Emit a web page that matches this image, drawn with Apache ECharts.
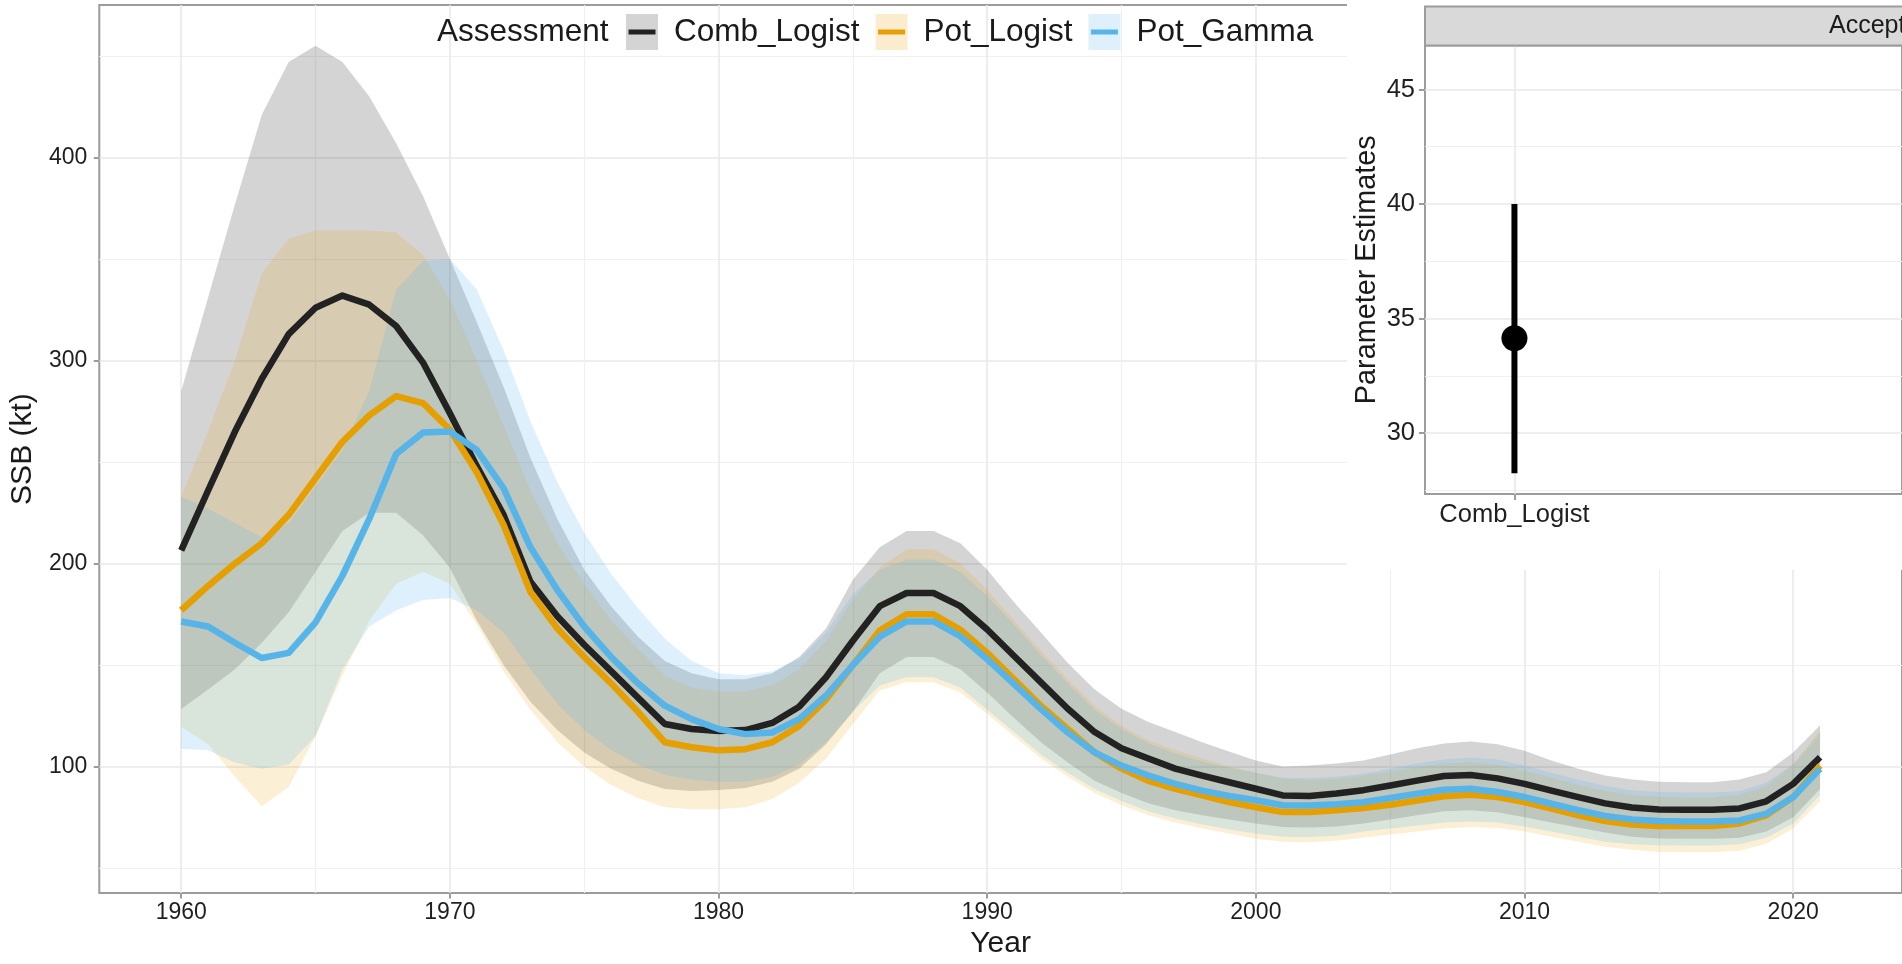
<!DOCTYPE html>
<html>
<head>
<meta charset="utf-8">
<script src="https://cdn.jsdelivr.net/npm/echarts@6/dist/echarts.min.js"></script>
<style>
  html, body { margin: 0; padding: 0; background: #ffffff; }
  #chart { width: 1902px; height: 964px; }
</style>
</head>
<body>
<div id="chart"></div>
<script>
// ---- Spawning stock biomass by assessment (kt) ----
const years = [
  1960, 1961, 1962, 1963, 1964, 1965, 1966, 1967, 1968, 1969,
  1970, 1971, 1972, 1973, 1974, 1975, 1976, 1977, 1978, 1979,
  1980, 1981, 1982, 1983, 1984, 1985, 1986, 1987, 1988, 1989,
  1990, 1991, 1992, 1993, 1994, 1995, 1996, 1997, 1998, 1999,
  2000, 2001, 2002, 2003, 2004, 2005, 2006, 2007, 2008, 2009,
  2010, 2011, 2012, 2013, 2014, 2015, 2016, 2017, 2018, 2019,
  2020, 2021
];

const assessments = ['Comb_Logist', 'Pot_Logist', 'Pot_Gamma'];

const combMean = [
  206.5, 236, 265, 291, 313, 326, 332, 327.5, 317, 299,
  274, 248, 224, 191, 174, 160, 147, 134, 121, 118.5,
  117.5, 118, 121.5, 129.5, 144, 162, 179, 185.5, 185.5, 179,
  167.5, 154.5, 141.5, 128.5, 117, 109, 104, 99, 95.6, 92.3,
  89.1, 85.8, 85.5, 86.8, 88.4, 90.7, 93.1, 95.4, 95.9, 94.2,
  91.5, 88.2, 85, 81.9, 79.9, 78.9, 78.8, 78.8, 79.4, 82.9,
  91.5, 104.6
];
const combUpper = [
  285, 331, 377, 421, 447, 455, 447, 430, 407, 381,
  350, 319, 287, 252, 222, 197, 179, 164, 152, 146,
  143, 143, 146, 154, 168, 192, 208, 216, 216, 210,
  197, 181, 166, 151, 138, 128.5, 122, 117, 112, 107.5,
  103, 100, 100.5, 101.5, 103, 106, 109, 111.4, 112.4, 111,
  107.8, 103, 99, 95.6, 93.6, 92.6, 92.3, 92.3, 93.6, 97.2,
  107, 120.4
];
const combLower = [
  128.4, 138, 148, 161, 176, 196, 216, 225, 225, 214,
  198, 172, 150, 132, 118, 107, 99, 93, 89, 88,
  88.5, 89.5, 92.5, 99, 111, 127, 146, 154, 154, 148,
  136.5, 124, 112, 102, 93, 87, 82, 78.5, 76, 74,
  72, 70.3, 70, 70.5, 72, 74, 76, 78, 78.5, 77.5,
  75, 72.5, 70, 67.5, 65.5, 64.6, 64.5, 64.5, 65, 68,
  75, 89
];

const potLMean = [
  177, 189, 200, 210, 224, 242, 260, 273, 282.5, 279,
  266, 245, 219, 186, 168, 154, 141, 127, 112, 109.5,
  108, 108.6, 112, 120, 133, 150, 167, 175, 175, 167.4,
  156, 143, 130, 118.5, 107, 99, 93, 89, 85.8, 82.5,
  80, 77.6, 77.6, 78.5, 79.6, 81.2, 83.3, 85.4, 86.1, 85,
  82.5, 79.3, 76, 73.2, 71.5, 70.8, 70.7, 70.8, 72, 76,
  85, 100.5
];
const potLUpper = [
  233, 265, 300, 343, 360, 364, 364, 364, 363, 352,
  330, 300, 268, 236, 210, 190, 172, 158, 145, 139,
  137, 137, 140, 148, 162, 182, 198, 207, 207, 200,
  187, 172, 157, 143, 130, 120, 113, 108, 104, 100,
  97, 94, 93.5, 94, 95.5, 97.5, 99.5, 101.5, 102, 101,
  98, 94.5, 91, 88, 86, 85, 84.8, 84.8, 86, 90.5,
  101, 118
];
const potLLower = [
  119.6, 111, 95, 80.5, 90, 115, 145, 172, 190, 196,
  190, 170, 147, 128, 112, 100, 91, 84.5, 80, 79,
  79, 80, 84, 92, 104, 121, 137.5, 141.5, 141.5, 136.5,
  126, 115, 104, 95, 87, 81, 76, 72.5, 69.5, 67,
  64.5, 63, 62.8, 63.5, 65, 66.5, 68, 69.5, 70.3, 69.8,
  68, 65.5, 63, 60.5, 59, 58, 57.8, 57.8, 58.5, 62,
  69.5, 83
];

const potGMean = [
  171.5, 169, 161, 153.5, 156, 171, 194, 222, 254, 264.5,
  265, 256, 237, 208, 187, 169, 154, 141, 130, 123.4,
  118.5, 116, 116.8, 123.4, 135, 150, 164, 171.5, 171.5, 164.2,
  152.9, 140.6, 128.3, 116.8, 107, 100.5, 95.6, 91.5, 88.2, 85.5,
  83.4, 81, 80.9, 81.5, 82.5, 84.5, 86.6, 88.6, 89.1, 87.5,
  85, 81.7, 78.5, 75.7, 74, 73.2, 73, 73, 73.5, 76.8,
  85, 98.9
];
const potGUpper = [
  233, 227, 220, 213, 220, 238, 256, 285, 335, 349,
  350, 335, 305, 270, 240, 215, 195, 178, 163, 152,
  146, 145, 147, 153, 166, 185, 197, 202, 202, 196,
  184, 170, 155, 141, 128, 118.5, 111.5, 106.5, 102.5, 99.5,
  97, 94.5, 94.3, 95, 96.5, 99, 101.5, 103.5, 104.4, 103.5,
  100.5, 97, 93.5, 90.5, 88.3, 87.5, 87.3, 87.3, 88, 92,
  101, 116
];
const potGLower = [
  108.8, 108, 102, 99, 101, 115, 148, 169, 177, 182,
  183, 177, 166, 148, 131, 118, 108, 101, 96, 93.5,
  92.5, 92.5, 95, 101, 112, 127, 140, 144, 144, 139,
  128, 117, 106, 97, 89, 83, 78, 74.5, 71.5, 69,
  67, 65.5, 65.3, 66, 68, 69.5, 71, 72.5, 73, 72.5,
  70.5, 68, 65.5, 63, 61.8, 61.3, 61.2, 61.2, 61.8, 65,
  72, 86
];

// Axis ticks
const yearTicks = [1960, 1970, 1980, 1990, 2000, 2010, 2020];
const yearMinorTicks = [1965, 1975, 1985, 1995, 2005, 2015];
const ssbTicks = [100, 200, 300, 400];
const ssbMinorTicks = [50, 150, 250, 350, 450];

// ---- Parameter estimate panel ----
const insetCategories = ['Comb_Logist'];
const insetEstimate = [34.14];
const insetLower = [28.25];
const insetUpper = [40.0];
const insetTicks = [30, 35, 40, 45];
const insetMinorTicks = [27.5, 32.5, 37.5, 42.5];
const stripLabel = 'Accepted';

// ---- styling ----
const FONT = '"Liberation Sans", Arial, Helvetica, sans-serif';
const lineColors = ['#222222', '#E69F00', '#56B4E9'];
const bandColors = ['rgba(38,38,38,0.2)', 'rgba(230,159,0,0.16)', 'rgba(86,180,233,0.2)'];
const keyFills = ['#d4d4d4', '#fbecd0', '#ddf0fb'];
const borderGrey = '#9c9c9c';
const gridMajor = '#e9e9e9';
const gridMinor = '#f0f0f0';
// legend key stroke: a 5px bar in the middle of a 27x36 key box
const keyBar = 'path://M0,0L27,0L27,0.01L0,0.01Z M0,15.5L27,15.5L27,20.5L0,20.5Z M0,35.99L27,35.99L27,36L0,36Z';

const means = [combMean, potLMean, potGMean];
const uppers = [combUpper, potLUpper, potGUpper];
const lowers = [combLower, potLLower, potGLower];

const pairs = vals => years.map((y, i) => [y, vals[i]]);

const series = [];
// ribbons: one filled polygon per assessment, upper edge out and lower edge back
assessments.forEach((name, k) => {
  series.push({
    type: 'custom', name, z: 2, silent: true,
    data: years.map((y, i) => [y, lowers[k][i], uppers[k][i]]),
    encode: { x: 0, y: [1, 2] },
    renderItem: (params, api) => {
      if (params.dataIndex !== 0) return null;
      const top = years.map((y, i) => api.coord([y, uppers[k][i]]));
      const bottom = years.map((y, i) => api.coord([y, lowers[k][i]])).reverse();
      return {
        type: 'polygon',
        shape: { points: top.concat(bottom) },
        style: { fill: bandColors[k] }
      };
    }
  });
});
// central estimates
assessments.forEach((name, k) => {
  series.push({
    type: 'line', name, data: pairs(means[k]), symbol: 'none',
    lineStyle: { color: lineColors[k], width: 6.5, join: 'round', cap: 'butt' },
    itemStyle: { color: lineColors[k] }, silent: true, z: 3
  });
});
// inset: interval + point estimate
series.push({
  type: 'custom', xAxisIndex: 2, yAxisIndex: 2, z: 30, silent: true,
  data: insetCategories.map((c, i) => [i + 1, insetLower[i], insetUpper[i]]),
  encode: { x: 0, y: [1, 2] },
  renderItem: (params, api) => {
    const a = api.coord([api.value(0), api.value(1)]);
    const b = api.coord([api.value(0), api.value(2)]);
    return { type: 'line', shape: { x1: a[0], y1: a[1], x2: b[0], y2: b[1] },
             style: { stroke: '#000000', lineWidth: 6 } };
  }
});
series.push({
  type: 'scatter', xAxisIndex: 2, yAxisIndex: 2, z: 31,
  data: insetCategories.map((c, i) => [i + 1, insetEstimate[i]]),
  symbol: 'circle', symbolSize: 26, itemStyle: { color: '#000000', opacity: 1 }, silent: true
});

const hidden = { show: false };
const plainNumber = v => String(v);

const option = {
  animation: false,
  backgroundColor: '#ffffff',
  textStyle: { fontFamily: FONT },
  title: {
    text: 'Assessment', left: 437, top: 14, padding: 0,
    textStyle: { fontFamily: FONT, fontSize: 31.5, fontWeight: 'normal', color: '#1a1a1a', lineHeight: 36 }
  },
  legend: [
    {
      data: assessments.map((a, k) => ({ name: a, itemStyle: { color: keyFills[k], borderWidth: 0, opacity: 1 } })),
      left: 626, top: 14, padding: 0, itemWidth: 32, itemHeight: 36, itemGap: 16,
      icon: 'rect', selectedMode: false, z: 5,
      textStyle: { fontFamily: FONT, fontSize: 31.5, lineHeight: 36, color: '#1a1a1a', padding: [0, 0, 0, 11] }
    },
    {
      data: assessments.map((a, k) => ({ name: a, itemStyle: { color: lineColors[k], borderWidth: 0, opacity: 1 } })),
      left: 628.5, top: 14, padding: 0, itemWidth: 27, itemHeight: 36, itemGap: 16,
      icon: keyBar, selectedMode: false, z: 6,
      textStyle: { fontFamily: FONT, fontSize: 31.5, lineHeight: 36, color: 'rgba(0,0,0,0)', padding: [0, 0, 0, 16] }
    }
  ],
  grid: [
    { left: 95.8, right: -15.6, top: 5, bottom: 65.7, show: true,
      borderColor: borderGrey, borderWidth: 2, backgroundColor: 'transparent', z: 0 },
    { left: 1425, right: -648, top: 45.5, bottom: 470, show: true,
      borderColor: borderGrey, borderWidth: 2, backgroundColor: 'transparent', z: 20 }
  ],
  xAxis: [
    { gridIndex: 0, type: 'value', min: 1956.95, max: 2024.05,
      name: 'Year', nameLocation: 'middle', nameGap: 33,
      nameTextStyle: { fontFamily: FONT, fontSize: 30, color: '#1a1a1a' },
      axisLine: hidden,
      axisTick: { show: true, length: 5.5, customValues: yearTicks, lineStyle: { color: borderGrey, width: 2 } },
      axisLabel: { customValues: yearTicks, formatter: plainNumber, margin: 8, fontFamily: FONT, fontSize: 23, color: '#1f1f1f' },
      splitLine: { show: true, lineStyle: { color: gridMajor, width: 1.6 } }, z: 0 },
    { gridIndex: 0, type: 'value', min: 1956.95, max: 2024.05,
      axisLine: hidden, axisLabel: hidden,
      axisTick: { show: false, customValues: yearMinorTicks },
      splitLine: { show: true, lineStyle: { color: gridMinor, width: 1.2 } }, z: 0 },
    { gridIndex: 1, type: 'value', min: 0.4, max: 3.6,
      axisLine: hidden,
      axisTick: { show: true, length: 6, customValues: [1], lineStyle: { color: borderGrey, width: 2 } },
      axisLabel: { customValues: [1], margin: 8, fontFamily: FONT, fontSize: 25.5, color: '#1f1f1f',
                   formatter: v => insetCategories[Math.round(v) - 1] || '' },
      splitLine: { show: true, lineStyle: { color: gridMajor, width: 1.6 } }, z: 20 }
  ],
  yAxis: [
    { gridIndex: 0, type: 'value', min: 37.7, max: 475.1,
      name: 'SSB (kt)', nameLocation: 'middle', nameGap: 59,
      nameTextStyle: { fontFamily: FONT, fontSize: 30, color: '#1a1a1a' },
      axisLine: hidden,
      axisTick: { show: true, length: 5.5, customValues: ssbTicks, lineStyle: { color: borderGrey, width: 2 } },
      axisLabel: { customValues: ssbTicks, formatter: plainNumber, margin: 12, fontFamily: FONT, fontSize: 23, color: '#1f1f1f' },
      splitLine: { show: true, lineStyle: { color: gridMajor, width: 1.6 } }, z: 0 },
    { gridIndex: 0, type: 'value', min: 37.7, max: 475.1,
      axisLine: hidden, axisLabel: hidden,
      axisTick: { show: false, customValues: ssbMinorTicks },
      splitLine: { show: true, lineStyle: { color: gridMinor, width: 1.2 } }, z: 0 },
    { gridIndex: 1, type: 'value', min: 27.34, max: 46.92,
      name: 'Parameter Estimates', nameLocation: 'middle', nameGap: 43,
      nameTextStyle: { fontFamily: FONT, fontSize: 28.8, color: '#1a1a1a' },
      axisLine: hidden,
      axisTick: { show: true, length: 6, customValues: insetTicks, lineStyle: { color: borderGrey, width: 2 } },
      axisLabel: { customValues: insetTicks, formatter: plainNumber, margin: 10, fontFamily: FONT, fontSize: 25.5, color: '#1f1f1f' },
      splitLine: { show: true, lineStyle: { color: gridMajor, width: 1.6 } }, z: 20 },
    { gridIndex: 1, type: 'value', min: 27.34, max: 46.92,
      axisLine: hidden, axisLabel: hidden,
      axisTick: { show: false, customValues: insetMinorTicks },
      splitLine: { show: true, lineStyle: { color: gridMinor, width: 1.2 } }, z: 20 }
  ],
  graphic: {
    elements: [
      // white backing of the parameter panel
      { type: 'rect', z: 10, silent: true,
        shape: { x: 1347, y: 0, width: 555, height: 570 }, style: { fill: '#ffffff' } },
      // facet strip
      { type: 'rect', z: 25, silent: true,
        shape: { x: 1425, y: 6.5, width: 700, height: 39 },
        style: { fill: '#d9d9d9', stroke: borderGrey, lineWidth: 2 } },
      { type: 'text', z: 26, silent: true, x: 1829, y: 26,
        style: { text: stripLabel, fill: '#1a1a1a', font: '25px ' + FONT,
                 align: 'left', verticalAlign: 'middle' } }
    ]
  },
  series
};

const chart = echarts.init(document.getElementById('chart'), null, { renderer: 'canvas' });
chart.setOption(option);
</script>
</body>
</html>
